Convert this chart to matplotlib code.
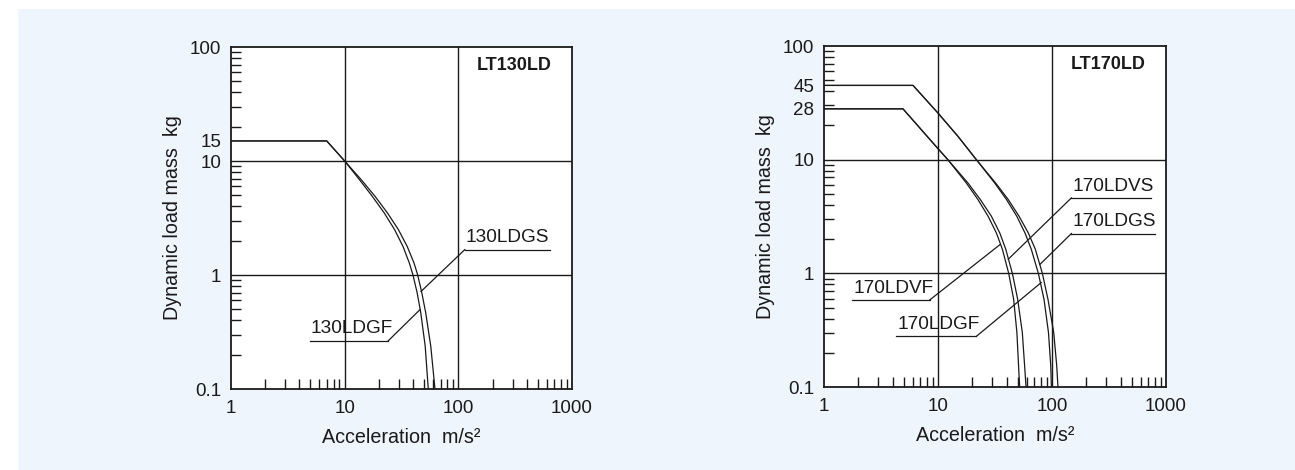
import matplotlib
matplotlib.use("Agg")
import matplotlib.pyplot as plt
from matplotlib.patches import Rectangle
from matplotlib.ticker import LogLocator, NullFormatter, FixedLocator, FixedFormatter

plt.rcParams['font.family'] = ['Liberation Sans', 'DejaVu Sans']

# ---------------- data ----------------
# LT130LD
mass_130 = [15, 15, 10, 6.85, 4.9, 3.5, 2.5, 1.78, 1.27, 1.0, 0.7, 0.468, 0.238, 0.1]
acc_130ldgf = [1, 6.95, 10, 13.5, 17.5, 22.3, 27.5, 32.6, 37.1, 39.9, 43.4, 46.7, 51.1, 54.4]
acc_130ldgs = [1, 6.95, 10, 14.0, 18.5, 23.8, 29.7, 35.5, 40.8, 43.9, 47.7, 51.6, 57.2, 62.3]

# LT170LD
mass_170v = [28, 28, 12.5, 10, 6.24, 4.46, 3.18, 2.27, 1.63, 1.0, 0.591, 0.302, 0.154, 0.1]
acc_170ldvf = [1, 4.93, 10, 12.2, 17.7, 22.4, 27.5, 32.5, 36.7, 41.7, 46.1, 49.2, 50.9, 52.0]
acc_170ldvs = [1, 4.93, 10, 12.2, 18.3, 23.5, 29.4, 34.8, 39.3, 44.9, 50.0, 54.9, 57.5, 59.2]

mass_170g = [45, 45, 25.7, 16, 10, 6.24, 4.46, 3.18, 2.27, 1.63, 1.0, 0.591, 0.302, 0.154, 0.1]
acc_170ldgf = [1, 6.04, 10, 15, 21.7, 31.4, 39.9, 49.1, 57.9, 65.8, 75.9, 85.1, 93.1, 97.5, 98.8]
acc_170ldgs = [1, 6.04, 10, 15, 21.7, 32.0, 41.3, 51.4, 61.9, 71.4, 82.3, 92.2, 103.5, 110.0, 112.8]

ytick_vals_130 = [0.1, 1, 10, 15, 100]
ytick_vals_170 = [0.1, 1, 10, 28, 45, 100]
xtick_vals = [1, 10, 100, 1000]

INK = '#1a1a1a'
W, H = 1295, 470
fig = plt.figure(figsize=(W / 100, H / 100), dpi=100)
fig.patch.set_facecolor('white')
fig.patches.append(Rectangle((18 / W, 0), 1 - 18 / W, 1 - 9 / H,
                             transform=fig.transFigure, facecolor='#EEF5FC',
                             edgecolor='none', zorder=-10))

def setup(ax, yticks, title):
    ax.set_xscale('log')
    ax.set_yscale('log')
    ax.set_xlim(1, 1000)
    ax.set_ylim(0.1, 100)
    ax.set_facecolor('white')
    for s in ax.spines.values():
        s.set_linewidth(1.3)
        s.set_color(INK)
    for v in [10, 100]:
        ax.axvline(v, color=INK, lw=1.0, zorder=1)
    for v in [1, 10]:
        ax.axhline(v, color=INK, lw=1.0, zorder=1)
    ax.xaxis.set_major_locator(FixedLocator(xtick_vals))
    ax.xaxis.set_major_formatter(FixedFormatter([str(v) for v in xtick_vals]))
    ax.yaxis.set_major_locator(FixedLocator(yticks))
    ax.yaxis.set_major_formatter(FixedFormatter([('%g' % v) for v in yticks]))
    ax.xaxis.set_minor_locator(LogLocator(base=10, subs=range(2, 10)))
    ax.yaxis.set_minor_locator(LogLocator(base=10, subs=range(2, 10)))
    ax.xaxis.set_minor_formatter(NullFormatter())
    ax.yaxis.set_minor_formatter(NullFormatter())
    ax.tick_params(which='major', length=0, labelsize=13.5, colors=INK)
    ax.tick_params(axis='y', which='major', pad=7)
    ax.tick_params(axis='x', which='major', pad=8)
    ax.tick_params(which='minor', direction='in', length=7, width=1.0, color=INK)
    ax.set_xlabel('Acceleration  m/s²', fontsize=14.2, labelpad=8, color=INK)
    ax.set_ylabel('Dynamic load mass  kg', fontsize=14.2, labelpad=6, color=INK)
    ax.text(0.83, 0.945, title, transform=ax.transAxes, ha='center', va='center',
            fontsize=13, fontweight='bold', color=INK)

curve_kw = dict(color=INK, lw=0.9, zorder=2, solid_joinstyle='round')

ax1 = fig.add_axes([231 / W, 1 - 389 / H, 341 / W, 342 / H])
setup(ax1, ytick_vals_130, 'LT130LD')
ax1.plot(acc_130ldgf, mass_130, **curve_kw)
ax1.plot(acc_130ldgs, mass_130, **curve_kw)

ax2 = fig.add_axes([824 / W, 1 - 387 / H, 342 / W, 341 / H])
setup(ax2, ytick_vals_170, 'LT170LD')
ax2.plot(acc_170ldvf, mass_170v, **curve_kw)
ax2.plot(acc_170ldvs, mass_170v, **curve_kw)
ax2.plot(acc_170ldgf, mass_170g, **curve_kw)
ax2.plot(acc_170ldgs, mass_170g, **curve_kw)

# annotation leaders (layout positions)
def leader(ax, text, x0, x1, yline, xend, yend, side):
    ax.plot([x0, x1], [yline, yline], color=INK, lw=0.9, zorder=3)
    start = x0 if side == 'left' else x1
    ax.plot([start, xend], [yline, yend], color=INK, lw=0.9, zorder=3)
    ax.text(x0 * 1.02, yline * 1.07, text, ha='left', va='bottom', fontsize=13.7,
            color=INK, zorder=4)

leader(ax1, '130LDGS', 114, 640, 1.67, 47.0, 0.718, 'left')
leader(ax1, '130LDGF', 4.95, 24.2, 0.265, 46.0, 0.497, 'right')

leader(ax2, '170LDVS', 148, 745, 4.61, 41.3, 1.33, 'left')
leader(ax2, '170LDGS', 148, 795, 2.24, 78.5, 1.2, 'left')
leader(ax2, '170LDVF', 1.77, 8.46, 0.583, 35.0, 1.79, 'right')
leader(ax2, '170LDGF', 4.32, 21.7, 0.279, 80.5, 0.83, 'right')

fig.savefig('out.png', dpi=100)
